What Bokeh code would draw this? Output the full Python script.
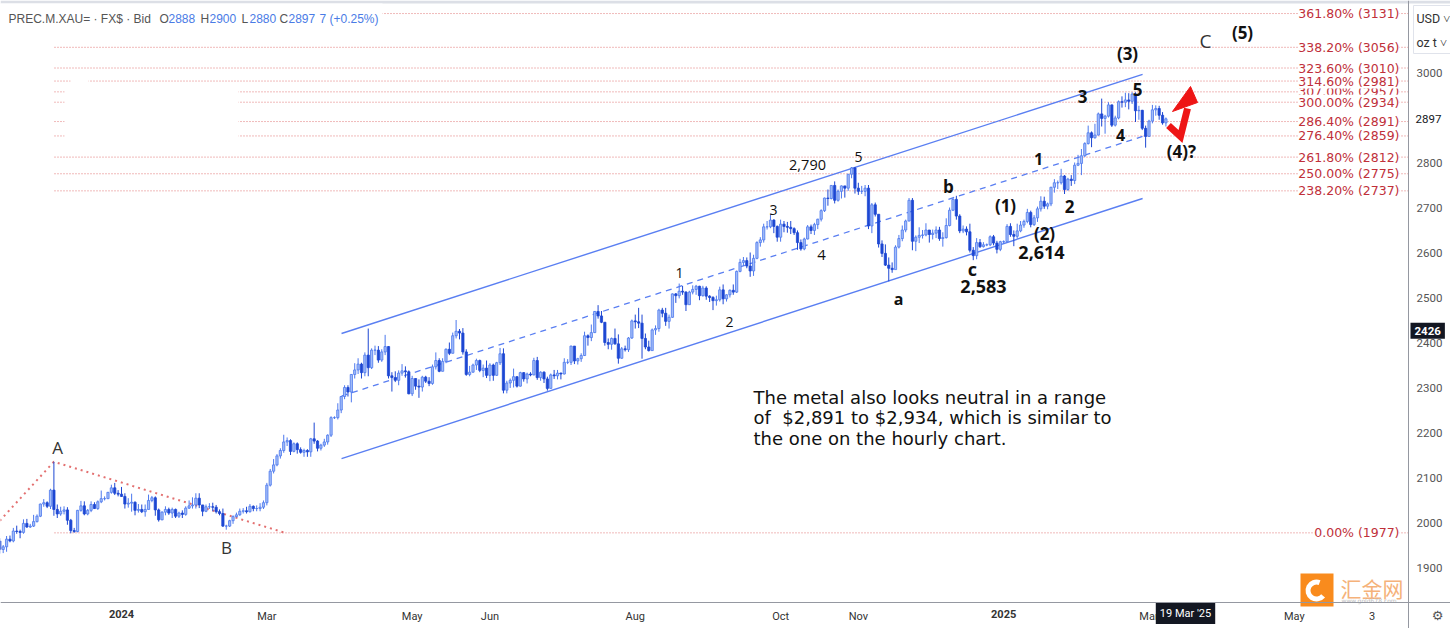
from bokeh.plotting import figure
from bokeh.models import ColumnDataSource, LabelSet, Label, FixedTicker, Range1d, LinearAxis
from bokeh.embed import file_html
from bokeh.resources import INLINE
from bokeh.core.properties import value

# ---------------- DATA (daily XAU/USD, 10 Nov 2023 -> 10 Mar 2025) ----------------
first_open = 1959
closes = [
    # Nov-Dec 2023
    1940, 1946, 1963, 1959, 1981, 1980, 1978, 1998, 1990, 1992, 2002, 2014, 2041, 2044, 2036, 2072,
    2029, 2019, 2025, 2028, 2005, 1982, 1980, 2027, 2037, 2019, 2027, 2040, 2031, 2046, 2053,
    2053, 2067, 2077, 2065, 2063,
    # Jan 2024
    2058, 2041, 2043, 2045, 2027, 2029, 2024, 2029, 2049, 2055, 2028, 2006, 2023, 2029,
    2021, 2029, 2014, 2021, 2018, 2032, 2037, 2039,
    # Feb
    2054, 2039, 2025, 2035, 2035, 2034, 2024, 2020, 1992, 1992, 2004, 2013, 2017, 2025, 2026,
    2024, 2036, 2031, 2031, 2034, 2044,
    # Mar
    2083, 2114, 2128, 2148, 2160, 2179, 2182, 2158, 2175, 2162, 2156, 2160, 2157, 2186, 2181,
    2165, 2172, 2179, 2194, 2233, 2233,
    # Apr
    2250, 2280, 2300, 2290, 2329, 2339, 2352, 2333, 2372, 2344, 2383, 2383, 2361, 2379, 2391,
    2326, 2322, 2316, 2332, 2337, 2335, 2286,
    # May
    2320, 2303, 2301, 2323, 2314, 2309, 2346, 2360, 2336, 2358, 2385, 2376, 2415, 2425, 2421,
    2379, 2329, 2334, 2350, 2360, 2338, 2343, 2327,
    # Jun
    2350, 2327, 2355, 2375, 2294, 2310, 2316, 2324, 2303, 2333, 2319, 2330, 2328, 2360, 2322,
    2334, 2319, 2298, 2328, 2326,
    # Jul
    2332, 2330, 2356, 2356, 2392, 2359, 2364, 2371, 2415, 2411, 2422, 2469, 2459, 2445, 2400,
    2396, 2409, 2397, 2365, 2386, 2384, 2410, 2448,
    # Aug
    2446, 2443, 2409, 2390, 2382, 2428, 2431, 2472, 2465, 2447, 2456, 2508, 2504, 2514, 2512,
    2484, 2512, 2518, 2525, 2504, 2521, 2503,
    # Sep
    2500, 2493, 2495, 2517, 2497, 2506, 2516, 2512, 2558, 2578, 2582, 2570, 2559, 2587, 2622,
    2628, 2657, 2657, 2672, 2658, 2634,
    # Oct
    2663, 2658, 2656, 2653, 2644, 2622, 2608, 2630, 2657, 2649, 2662, 2674, 2693, 2721, 2720,
    2749, 2716, 2736, 2748, 2743, 2774, 2788, 2743,
    # Nov
    2736, 2736, 2743, 2659, 2706, 2685, 2619, 2598, 2572, 2565, 2562, 2612, 2631, 2650, 2670,
    2716, 2625, 2634, 2638, 2639, 2650,
    # Dec
    2640, 2643, 2650, 2631, 2633, 2660, 2694, 2718, 2681, 2648, 2652, 2646, 2605, 2593, 2622,
    2613, 2617, 2617, 2635, 2621, 2607, 2624,
    # Jan 2025
    2624, 2658, 2640, 2636, 2648, 2661, 2669, 2689, 2662, 2677, 2697, 2714, 2703, 2708, 2745,
    2755, 2755, 2770, 2740, 2763, 2760, 2794, 2798,
    # Feb
    2815, 2842, 2866, 2855, 2861, 2908, 2898, 2903, 2928, 2883, 2899, 2935, 2934, 2939, 2936,
    2952, 2915, 2916, 2876, 2858,
    # Mar
    2892, 2917, 2920, 2905, 2888, 2897,
]
highs = [
    1965, 1950, 1970, 1971, 1988, 1993, 1984, 2007, 2008, 1997, 2017, 2018, 2042, 2052, 2047, 2075,
    2135, 2040, 2035, 2036, 2034, 2008, 1988, 2028, 2048, 2047, 2030, 2047, 2045, 2049, 2071,
    2058, 2068, 2084, 2088, 2072,
    2079, 2065, 2054, 2064, 2047, 2041, 2040, 2040, 2062, 2059, 2058, 2031, 2025, 2036,
    2033, 2033, 2031, 2024, 2027, 2036, 2049, 2056,
    2065, 2065, 2039, 2040, 2043, 2044, 2039, 2029, 2031, 1995, 2006, 2016, 2022, 2031, 2032,
    2035, 2041, 2038, 2038, 2043, 2049,
    2088, 2119, 2141, 2152, 2165, 2195, 2189, 2185, 2178, 2178, 2167, 2164, 2163, 2188, 2222,
    2183, 2175, 2186, 2196, 2236, 2236,
    2265, 2281, 2305, 2305, 2330, 2354, 2365, 2355, 2378, 2431, 2387, 2393, 2392, 2385, 2417,
    2392, 2334, 2336, 2338, 2352, 2347, 2338,
    2326, 2320, 2318, 2326, 2326, 2323, 2351, 2378, 2365, 2365, 2387, 2400, 2422, 2450, 2430,
    2432, 2385, 2348, 2353, 2364, 2362, 2351, 2360,
    2354, 2353, 2357, 2388, 2387, 2315, 2320, 2342, 2325, 2335, 2334, 2333, 2334, 2366, 2368,
    2336, 2336, 2324, 2331, 2339,
    2339, 2333, 2365, 2363, 2393, 2392, 2366, 2376, 2424, 2418, 2440, 2470, 2483, 2470, 2445,
    2409, 2411, 2431, 2418, 2390, 2393, 2412, 2451,
    2462, 2477, 2462, 2420, 2404, 2431, 2438, 2475, 2477, 2477, 2462, 2509, 2510, 2531, 2526,
    2514, 2515, 2527, 2528, 2526, 2526, 2525,
    2505, 2503, 2504, 2524, 2529, 2507, 2518, 2529, 2560, 2586, 2590, 2589, 2600, 2595, 2625,
    2634, 2664, 2670, 2685, 2674, 2660,
    2673, 2670, 2668, 2670, 2656, 2649, 2629, 2633, 2661, 2662, 2666, 2675, 2696, 2722, 2740,
    2749, 2758, 2740, 2749, 2748, 2774, 2790, 2790,
    2755, 2748, 2750, 2750, 2710, 2711, 2684, 2627, 2618, 2589, 2578, 2616, 2639, 2660, 2673,
    2721, 2721, 2638, 2656, 2650, 2665,
    2650, 2651, 2658, 2657, 2645, 2676, 2700, 2721, 2726, 2685, 2660, 2658, 2664, 2612, 2632,
    2630, 2623, 2620, 2638, 2639, 2626, 2626,
    2627, 2663, 2665, 2649, 2664, 2670, 2673, 2697, 2693, 2683, 2702, 2725, 2724, 2711, 2746,
    2763, 2760, 2786, 2772, 2766, 2772, 2800, 2817,
    2830, 2845, 2882, 2869, 2886, 2911, 2942, 2906, 2934, 2929, 2904, 2938, 2947, 2955, 2954,
    2956, 2956, 2926, 2917, 2882,
    2895, 2928, 2927, 2926, 2912, 2900,
]
lows = [
    1931, 1932, 1935, 1956, 1956, 1975, 1965, 1975, 1988, 1988, 1990, 2000, 2012, 2035, 2032, 2030,
    2015, 2010, 2015, 2018, 1995, 1976, 1977, 1978, 2024, 2016, 2016, 2023, 2030, 2028, 2043,
    2049, 2052, 2064, 2061, 2058,
    2057, 2031, 2033, 2024, 2016, 2022, 2021, 2013, 2029, 2045, 2015, 2002, 2005, 2016,
    2017, 2010, 2010, 2010, 2010, 2015, 2030, 2031,
    2031, 2032, 2014, 2023, 2030, 2025, 2020, 2016, 1990, 1984, 1990, 1997, 2011, 2015, 2020,
    2020, 2022, 2025, 2025, 2025, 2030,
    2038, 2080, 2109, 2125, 2142, 2155, 2170, 2150, 2156, 2153, 2153, 2146, 2146, 2146, 2175,
    2158, 2160, 2168, 2173, 2190, 2230,
    2229, 2243, 2274, 2280, 2267, 2320, 2330, 2320, 2325, 2325, 2341, 2372, 2355, 2357, 2372,
    2320, 2291, 2312, 2305, 2326, 2322, 2285,
    2281, 2295, 2277, 2291, 2310, 2303, 2306, 2340, 2334, 2336, 2354, 2372, 2376, 2409, 2407,
    2373, 2326, 2325, 2333, 2339, 2334, 2323, 2321,
    2314, 2315, 2326, 2350, 2287, 2287, 2299, 2300, 2300, 2302, 2313, 2309, 2325, 2327, 2317,
    2315, 2310, 2293, 2298, 2319,
    2318, 2318, 2329, 2352, 2350, 2352, 2351, 2357, 2370, 2393, 2403, 2421, 2453, 2443, 2393,
    2385, 2384, 2395, 2353, 2364, 2380, 2379, 2408,
    2431, 2432, 2364, 2385, 2380, 2382, 2417, 2424, 2456, 2437, 2431, 2455, 2488, 2498, 2506,
    2470, 2484, 2507, 2506, 2494, 2502, 2495,
    2490, 2472, 2482, 2491, 2485, 2491, 2500, 2506, 2510, 2556, 2570, 2565, 2546, 2548, 2585,
    2613, 2622, 2651, 2654, 2643, 2624,
    2624, 2645, 2644, 2641, 2639, 2606, 2604, 2605, 2629, 2641, 2639, 2652, 2669, 2690, 2704,
    2718, 2709, 2713, 2720, 2722, 2737, 2765, 2731,
    2728, 2730, 2725, 2652, 2643, 2680, 2611, 2590, 2570, 2536, 2555, 2563, 2609, 2625, 2645,
    2669, 2605, 2603, 2621, 2631, 2636,
    2622, 2629, 2632, 2626, 2613, 2631, 2658, 2692, 2673, 2643, 2643, 2638, 2600, 2583, 2585,
    2610, 2611, 2614, 2614, 2616, 2598, 2603,
    2620, 2624, 2635, 2614, 2631, 2645, 2655, 2665, 2656, 2659, 2668, 2691, 2697, 2696, 2703,
    2733, 2741, 2751, 2730, 2737, 2748, 2752, 2792,
    2772, 2812, 2840, 2834, 2853, 2860, 2880, 2864, 2900, 2879, 2880, 2896, 2922, 2923, 2918,
    2930, 2890, 2895, 2872, 2833,
    2857, 2887, 2904, 2895, 2884, 2880,
]
first_bar = -36           # bar index of 10 Nov 2023 (0 = 2 Jan 2024, trading days)

# x-axis: first trading day of the labelled months (bar index) and labels
month_ticks = [43, 86, 109, 152, 195, 218, 304, 347, 370]
month_labels = ["Mar", "May", "Jun", "Aug", "Oct", "Nov", "Mar", "May", "3"]
year_ticks = [0, 261]
year_labels = ["2024", "2025"]
price_ticks = [1900, 2000, 2100, 2200, 2300, 2400, 2500, 2600, 2700, 2800, 3000]

# Fibonacci extension levels
fib_pct = ["361.80%", "338.20%", "323.60%", "314.60%", "307.00%", "300.00%",
           "286.40%", "276.40%", "261.80%", "250.00%", "238.20%", "0.00%"]
fib_val = [3131, 3056, 3010, 2981, 2957, 2934, 2891, 2859, 2812, 2775, 2737, 1977]

# trend channel (bar index, price)
chan_x = [65.1, 302.1]
chan_upper = [2420, 2996]
chan_lower = [2142, 2720]
chan_mid = [2281, 2858]

# A-B dotted lines (bar index, price)
ab_x = [-36, -20, 48]
ab_y = [2004, 2135, 1978]

last_price = 2897
cross_price = 2426
cross_date = "19 Mar '25"

# ---------------- helpers: reference pixel -> data ----------------
PX0, PXD = 121.0, 3.38
def X(px):
    return (px - PX0) / PXD
def Y(py):
    return 3000 - (py - 72) / 0.45

W, H = 1450, 628
opens = [first_open] + closes[:-1]
xs = list(range(first_bar, first_bar + len(closes)))

UP_FILL, UP_LINE, DN = "#a3bdf8", "#4c78ee", "#1d47d3"

p = figure(frame_width=W, frame_height=H,
           x_range=Range1d(X(0), X(W)), y_range=Range1d(Y(H), Y(0)),
           output_backend="svg", toolbar_location=None, y_axis_location="right",
           min_border=0, min_border_left=0, min_border_right=0, min_border_top=0, min_border_bottom=0)
p.outline_line_color = None
p.background_fill_color = "white"
p.xgrid.visible = False
p.ygrid.visible = False

# price scale drawn at its place inside the canvas
p.yaxis.fixed_location = X(1408)
p.yaxis.ticker = FixedTicker(ticks=price_ticks)
p.yaxis.major_tick_line_color = None
p.yaxis.minor_tick_line_color = None
p.yaxis.major_tick_out = 0
p.yaxis.major_label_standoff = 8
p.yaxis.axis_line_color = "#9598a1"
p.yaxis.major_label_text_color = "#555555"
p.yaxis.major_label_text_font = "Roboto"
p.yaxis.major_label_text_font_size = "11.5px"

# time scale
p.xaxis.fixed_location = Y(602)
p.xaxis.ticker = FixedTicker(ticks=month_ticks)
p.xaxis.major_label_overrides = {t: l for t, l in zip(month_ticks, month_labels)}
p.xaxis.major_tick_line_color = None
p.xaxis.minor_tick_line_color = None
p.xaxis.major_tick_out = 0
p.xaxis.major_label_standoff = 7
p.xaxis.axis_line_color = "#9598a1"
p.xaxis.major_label_text_color = "#333333"
p.xaxis.major_label_text_font = "Roboto"
p.xaxis.major_label_text_font_size = "11px"

yr = LinearAxis(ticker=FixedTicker(ticks=year_ticks),
                major_label_overrides={t: l for t, l in zip(year_ticks, year_labels)},
                fixed_location=Y(602), axis_line_color=None, major_tick_line_color=None,
                minor_tick_line_color=None, major_tick_out=0, major_label_standoff=7,
                major_label_text_color="#333333", major_label_text_font="Roboto",
                major_label_text_font_size="11px", major_label_text_font_style="bold")
p.add_layout(yr, "below")

# top border strip of the screenshot
p.quad(left=[X(0)], right=[X(W)], top=[Y(0)], bottom=[Y(3)], fill_color="#dcdfe6", line_color=None)

# Fibonacci lines
x_end = X(1408)
p.segment(x0=[X(54)] * len(fib_val), y0=fib_val, x1=[x_end] * len(fib_val), y1=fib_val,
          line_color="#e07474", line_width=1, line_dash="1 2")

# white boxes (header background, blanked areas of the original picture)
p.quad(left=[X(0), X(64), X(70)], right=[X(382), X(238), X(88)],
       top=[Y(3), Y(86), Y(78)], bottom=[Y(27), Y(146), Y(84)], fill_color="white", line_color=None)

# currency / unit selector box
p.quad(left=[X(1413)], right=[X(1453)], top=[Y(5)], bottom=[Y(53)], fill_color="white",
       line_color="#e0e3eb", line_width=1)

# channel
p.line(chan_x, chan_upper, line_color="#5a7ff2", line_width=1.4)
p.line(chan_x, chan_lower, line_color="#5a7ff2", line_width=1.4)
p.line(chan_x, chan_mid, line_color="#5a7ff2", line_width=1.3, line_dash="6 5")

# A-B dotted
p.line(ab_x, ab_y, line_color="#e06060", line_width=2, line_dash="2 4", line_alpha=0.9)

# candles
up_i = [i for i in range(len(closes)) if closes[i] >= opens[i]]
dn_i = [i for i in range(len(closes)) if closes[i] < opens[i]]
def src(idx):
    return ColumnDataSource(dict(
        x=[xs[i] for i in idx], h=[highs[i] for i in idx], l=[lows[i] for i in idx],
        top=[max(opens[i], closes[i]) for i in idx], bot=[min(opens[i], closes[i]) for i in idx]))
su, sd = src(up_i), src(dn_i)
p.segment(x0="x", y0="l", x1="x", y1="h", source=su, line_color=UP_LINE, line_width=1)
p.segment(x0="x", y0="l", x1="x", y1="h", source=sd, line_color=DN, line_width=1)
p.vbar(x="x", width=0.66, top="top", bottom="bot", source=su, fill_color=UP_FILL, line_color=UP_LINE, line_width=0.8)
p.vbar(x="x", width=0.66, top="top", bottom="bot", source=sd, fill_color=DN, line_color=DN, line_width=0.8)

# red arrow
arr_x = [X(1168), X(1180), X(1187)]
arr_y = [Y(125), Y(136), Y(108)]
p.line(arr_x, arr_y, line_color="#ee1515", line_width=7, line_join="miter")
p.patch([X(1172), X(1190), X(1197)], [Y(111), Y(86), Y(102)], fill_color="#ee1515", line_color="#ee1515")

# Fibonacci labels (white background, right aligned)
order = [4, 3, 2, 5, 0, 1, 6, 7, 8, 9, 10, 11]
fsrc = ColumnDataSource(dict(x=[X(1399)] * len(order), y=[fib_val[i] for i in order],
                             t=["%s (%d)" % (fib_pct[i], fib_val[i]) for i in order]))
p.add_layout(LabelSet(x="x", y="y", text="t", source=fsrc, text_align="right", text_baseline="middle",
                      text_font=value("DejaVu Sans"), text_font_size="12.5px", text_color="#c0303a",
                      background_fill_color="white"))

# wave labels
wave_txt = ["(3)", "C", "(5)", "3", "5", "4", "(4)?", "1", "2", "(1)", "(2)", "2,614", "2,583",
            "c", "b", "a", "5", "2,790", "3", "4", "1", "2", "A", "B"]
wave_px = [(1127, 53), (1205, 40), (1242, 32), (1082, 96), (1137, 89), (1120, 134), (1181, 151),
           (1038, 158), (1069, 206), (1005, 205), (1044, 233), (1041, 252), (983, 286),
           (972, 268), (948, 186), (898, 298), (858, 156), (807, 164), (773, 209), (821, 254),
           (679, 272), (729, 321), (57, 447), (226, 547)]
wave_size = ["17px", "19px", "17px", "17px", "17px", "16px", "17px", "16px", "17px", "17px", "17px",
             "18px", "18px", "18px", "17px", "16px", "14px", "14.5px", "14px", "15px", "14px", "14px",
             "17px", "17px"]
wave_style = ["bold", "normal", "bold", "bold", "bold", "bold", "bold", "bold", "bold", "bold", "bold",
              "bold", "bold", "bold", "bold", "bold", "normal", "normal", "normal", "normal", "normal",
              "normal", "normal", "normal"]
wave_col = ["#111111"] * 22 + ["#333333", "#333333"]
wave_col[1] = "#333333"
wsrc = ColumnDataSource(dict(x=[X(a) for a, b in wave_px], y=[Y(b) for a, b in wave_px],
                             t=wave_txt, s=wave_size, c=wave_col, st=wave_style))
p.text(x="x", y="y", text="t", source=wsrc, text_font=value("Open Sans"), text_font_size="s",
       text_font_style="st", text_color="c", text_align="center", text_baseline="middle")

# comment text
note = ["The metal also looks neutral in a range",
        "of \u00a0$2,891 to $2,934, which is similar to",
        "the one on the hourly chart."]
p.text(x=[X(753)] * 3, y=[Y(397), Y(417), Y(438)], text=note, text_font=value("DejaVu Sans"),
       text_font_size="18px", text_color="#111111", text_align="left", text_baseline="middle")

# header
hdr_txt = ["PREC.M.XAU= · FX$ · Bid", "O", "2888", "H", "2900", "L", "2880", "C", "2897", "7 (+0.25%)"]
hdr_px = [8, 159, 168, 200, 209, 241, 249, 279, 288, 319]
hdr_col = ["#555555", "#555555", "#4a7be6", "#555555", "#4a7be6", "#555555", "#4a7be6",
           "#555555", "#4a7be6", "#4a7be6"]
p.text(x=[X(v) for v in hdr_px], y=[Y(18)] * len(hdr_px), text=hdr_txt, text_color=hdr_col,
       text_font=value("Liberation Sans"), text_font_size="12px", text_align="left", text_baseline="middle")

# watermark logo
p.quad(left=[X(1300)], right=[X(1333)], top=[Y(573)], bottom=[Y(606)], fill_color="#f98b1d", line_color=None)
p.annular_wedge(x=[X(1316)], y=[Y(590)], inner_radius=6, outer_radius=11,
                inner_radius_units="screen", outer_radius_units="screen",
                start_angle=1.2, end_angle=5.6, fill_color="white", line_color=None)
p.text(x=[X(1340)], y=[Y(587)], text=["汇金网"], text_font=value("Noto Sans CJK SC"),
       text_font_size="21px", text_color="#f5b27a", text_align="left", text_baseline="middle")
p.text(x=[X(1341)], y=[Y(600)], text=["www.gold678.com"], text_font=value("DejaVu Sans"),
       text_font_size="6px", text_color="#bbbbbb", text_align="left", text_baseline="middle")
p.text(x=[X(1437)], y=[Y(615)], text=["⚙"], text_font=value("DejaVu Sans"),
       text_font_size="13px", text_color="#555555", text_align="center", text_baseline="middle")

# price / crosshair tags on the scales
p.add_layout(Label(x=X(1412), y=last_price, text=str(last_price), text_baseline="middle",
                   text_color="#131722", text_font="Roboto", text_font_size="11.5px",
                   background_fill_color="white", padding=3))
p.add_layout(Label(x=X(1410), y=cross_price, text=str(cross_price), text_baseline="middle",
                   text_color="white", text_font="Roboto", text_font_size="11.5px",
                   text_font_style="bold", background_fill_color="#131722", padding=4))
p.add_layout(Label(x=X(1185), y=Y(613), text=cross_date, text_baseline="middle", text_align="center",
                   text_color="white", text_font="Roboto", text_font_size="11px",
                   background_fill_color="#131722", padding=4))
p.add_layout(Label(x=X(1416), y=Y(18), text="USD ˅", text_baseline="middle",
                   text_color="#333333", text_font="Roboto", text_font_size="12.5px"))
p.add_layout(Label(x=X(1416), y=Y(42), text="oz t ˅", text_baseline="middle",
                   text_color="#333333", text_font="Roboto", text_font_size="12.5px"))

open("out.html", "w").write(file_html(p, INLINE))
